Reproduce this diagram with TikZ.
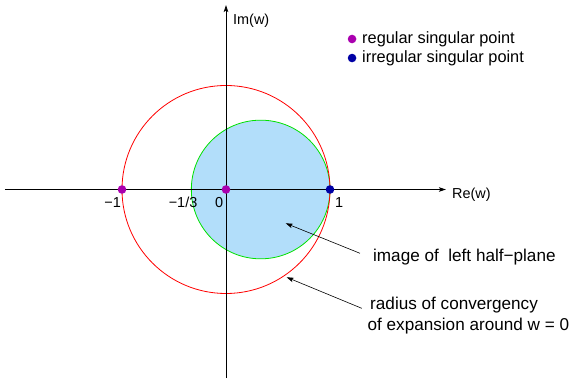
\documentclass[tikz,border=0pt]{standalone}
\usepackage{fontspec}
\setmainfont{Liberation Sans}
\usetikzlibrary{positioning}
\usetikzlibrary{arrows.meta}

\definecolor{diskfill}{RGB}{178,222,250}
\definecolor{diskline}{RGB}{0,225,0}
\definecolor{regpt}{RGB}{170,0,175}
\definecolor{irrpt}{RGB}{0,0,165}

\begin{document}
\begin{tikzpicture}[
        x = 104bp, y = 104bp, % one unit of w
        > = {Stealth[length=7bp,width=4.5bp,inset=1.5bp]}, % arrow head style
        axis/.style = {line width=0.8bp, ->},
        pointer/.style = {line width=0.6bp, ->},
        singular/.style = {circle, inner sep=0pt, minimum size=8.6bp},
        txt/.style = {inner sep=0pt, anchor=base west, font=\fontsize{16.4}{19}\selectfont},
        note/.style = {txt, font=\fontsize{17.2}{20}\selectfont},
        tick/.style = {inner sep=0pt, anchor=base, font=\fontsize{14.5}{17}\selectfont}
        ]
  \useasboundingbox (-2.173,-1.861) rectangle (3.346,1.822);

  % disk and circle of convergence
  \fill[diskfill] (1/3,0) circle (2/3);
  \draw[diskline, line width=0.8bp] (1/3,0) circle (2/3);
  \draw[red, line width=0.8bp] (0,0) circle (1);

  % axes
  \coordinate (xmin) at (-2.125,0);
  \coordinate (xmax) at (2.115,0);
  \coordinate (ymin) at (0,-1.813);
  \coordinate (ymax) at (0,1.774);
  \draw[axis] (xmin) -- (xmax);
  \draw[axis] (ymin) -- (ymax);
  \node[tick, anchor=base west] (re) at (2.173,-0.082) {Re(w)};
  \node[tick, anchor=base west] (im) at (0.067,1.591) {Im(w)};

  % singular points on the axis
  \node[singular, fill=regpt] (m1) at (-1,0) {};
  \node[singular, fill=regpt] (z0) at (0,0) {};
  \node[singular, fill=irrpt] (p1) at (1,0) {};
  \node[tick] (lm1) at (-1.09,-0.173) {−1};
  \node[tick] (lm3) at (-0.413,-0.173) {−1/3};
  \node[tick] (lz0) at (-0.067,-0.173) {0};
  \node[tick] (lp1) at (1.087,-0.173) {1};

  % legend
  \node[singular, fill=regpt] (regdot) at (1.212,1.447) {};
  \node[singular, fill=irrpt] (irrdot) at (1.212,1.264) {};
  \node[txt] (reglabel) at (1.308,1.407) {regular singular point};
  \node[txt] (irrlabel) at (1.308,1.224) {irregular singular point};

  % annotations
  \node[note] (imglabel) at (1.413,-0.694) {image of\ \ left half−plane};
  \node[note] (radlabel) at (1.385,-1.152) {radius of convergency};
  \node[note] (radlabelb) at (1.36,-1.358) {of expansion around w = 0};
  \coordinate (imgtip) at (0.574,-0.325);
  \coordinate (radtip) at (0.583,-0.844);
  \draw[pointer] ([xshift=-13bp,yshift=8.4bp]imglabel.base west) -- (imgtip);
  \draw[pointer] ([xshift=-8.3bp,yshift=1bp]radlabel.base west) -- (radtip);

\end{tikzpicture}
\end{document}
